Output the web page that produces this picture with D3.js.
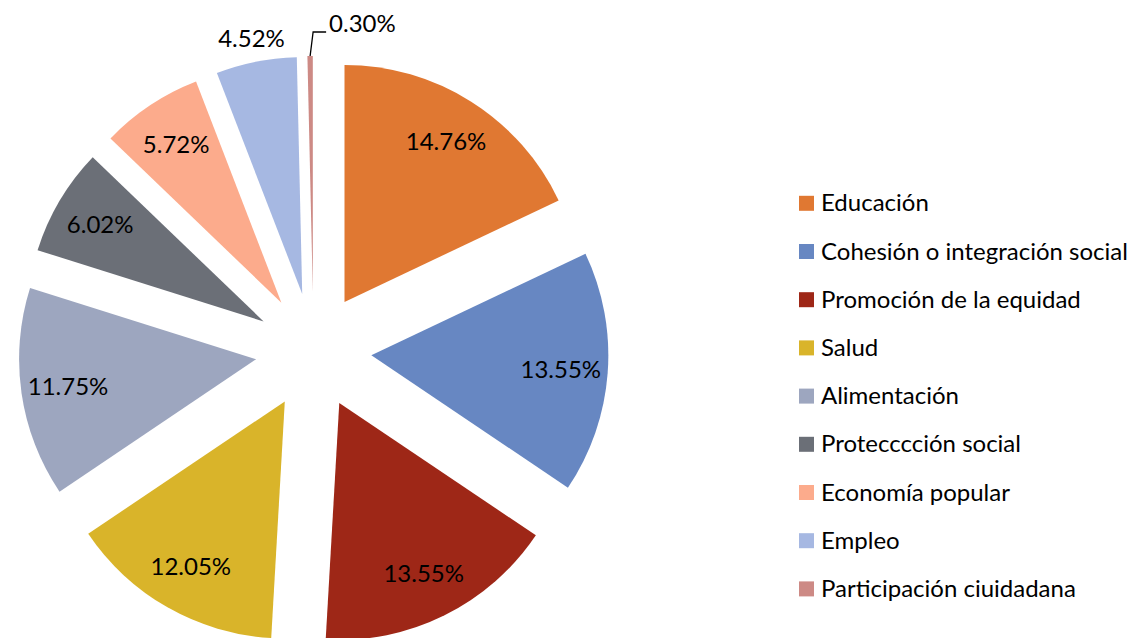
<!DOCTYPE html>
<html><head><meta charset="utf-8">
<script src="https://cdn.jsdelivr.net/npm/d3@7"></script>
<style>html,body{margin:0;padding:0;background:#fff;} svg{display:block;}</style>
</head><body>
<svg id="chart" width="1147" height="638"></svg>
<script>
const categories = ["Educación","Cohesión o integración social","Promoción de la equidad","Salud","Alimentación","Protecccción social","Economía popular","Empleo","Participación ciuidadana"];
const values = [14.76, 13.55, 13.55, 12.05, 11.75, 6.02, 5.72, 4.52, 0.30];
const colors = ["#E07832","#6787C2","#9E2717","#D9B42A","#9DA6BF","#6B6F77","#FCAB8C","#A6B8E2","#CD8A85"];

const W = 1147, H = 638;
const cx = 313.5, cy = 351, R = 237, explode = 58;
const FONT = "Lato, 'Open Sans', sans-serif";
const FS = 24;
const svg = d3.select("#chart");
const g = svg.append("g").attr("transform", `translate(${cx},${cy})`);

const pie = d3.pie().sort(null).value(d => d);
const arcs = pie(values);
const arc = d3.arc().innerRadius(0).outerRadius(R);
const mid = d => (d.startAngle + d.endAngle) / 2;

g.selectAll("path.slice").data(arcs).join("path")
  .attr("class", "slice")
  .attr("d", arc)
  .attr("fill", (d, i) => colors[i])
  .attr("transform", d => `translate(${Math.sin(mid(d)) * explode},${-Math.cos(mid(d)) * explode})`);

const fmt = v => v.toFixed(2) + "%";

// inside labels
const labelR = explode + 190;
g.selectAll("text.lbl").data(arcs.filter((d, i) => i < 7)).join("text")
  .attr("class", "lbl")
  .attr("x", d => Math.sin(mid(d)) * labelR)
  .attr("y", d => -Math.cos(mid(d)) * labelR)
  .attr("dy", "0.35em")
  .attr("text-anchor", "middle")
  .attr("font-family", FONT).attr("font-size", FS).attr("fill", "#000")
  .text(d => fmt(d.data));

// Empleo outside label
const dE = arcs[7];
const rE = explode + R + 24;
g.append("text")
  .attr("x", Math.sin(mid(dE)) * rE)
  .attr("y", -Math.cos(mid(dE)) * rE)
  .attr("dy", "0.35em").attr("text-anchor", "middle")
  .attr("font-family", FONT).attr("font-size", FS).attr("fill", "#000")
  .text(fmt(dE.data));

// Participación with leader line
const dP = arcs[8];
const rP = explode + R;
const p1 = [Math.sin(mid(dP)) * rP, -Math.cos(mid(dP)) * rP];
const p2 = [p1[0] + 3, p1[1] - 24];
const p3 = [p2[0] + 13, p2[1]];
g.append("path")
  .attr("d", d3.line()([p1, p2, p3]))
  .attr("fill", "none").attr("stroke", "#000").attr("stroke-width", 1.3);
g.append("text")
  .attr("x", p3[0] + 3).attr("y", p3[1])
  .attr("text-anchor", "start")
  .attr("font-family", FONT).attr("font-size", FS).attr("fill", "#000")
  .text(fmt(dP.data));

// legend
const legY0 = 203.3, legStep = 48.2;
const leg = svg.append("g");
const rows = leg.selectAll("g").data(categories).join("g")
  .attr("transform", (d, i) => `translate(799,${legY0 + i * legStep})`);
rows.append("rect").attr("x", 0).attr("y", -7.5).attr("width", 15).attr("height", 15)
  .attr("fill", (d, i) => colors[i]);
rows.append("text").attr("x", 22).attr("y", 8)
  .attr("font-family", FONT).attr("font-size", FS).attr("fill", "#000")
  .text(d => d);
</script>
</body></html>
